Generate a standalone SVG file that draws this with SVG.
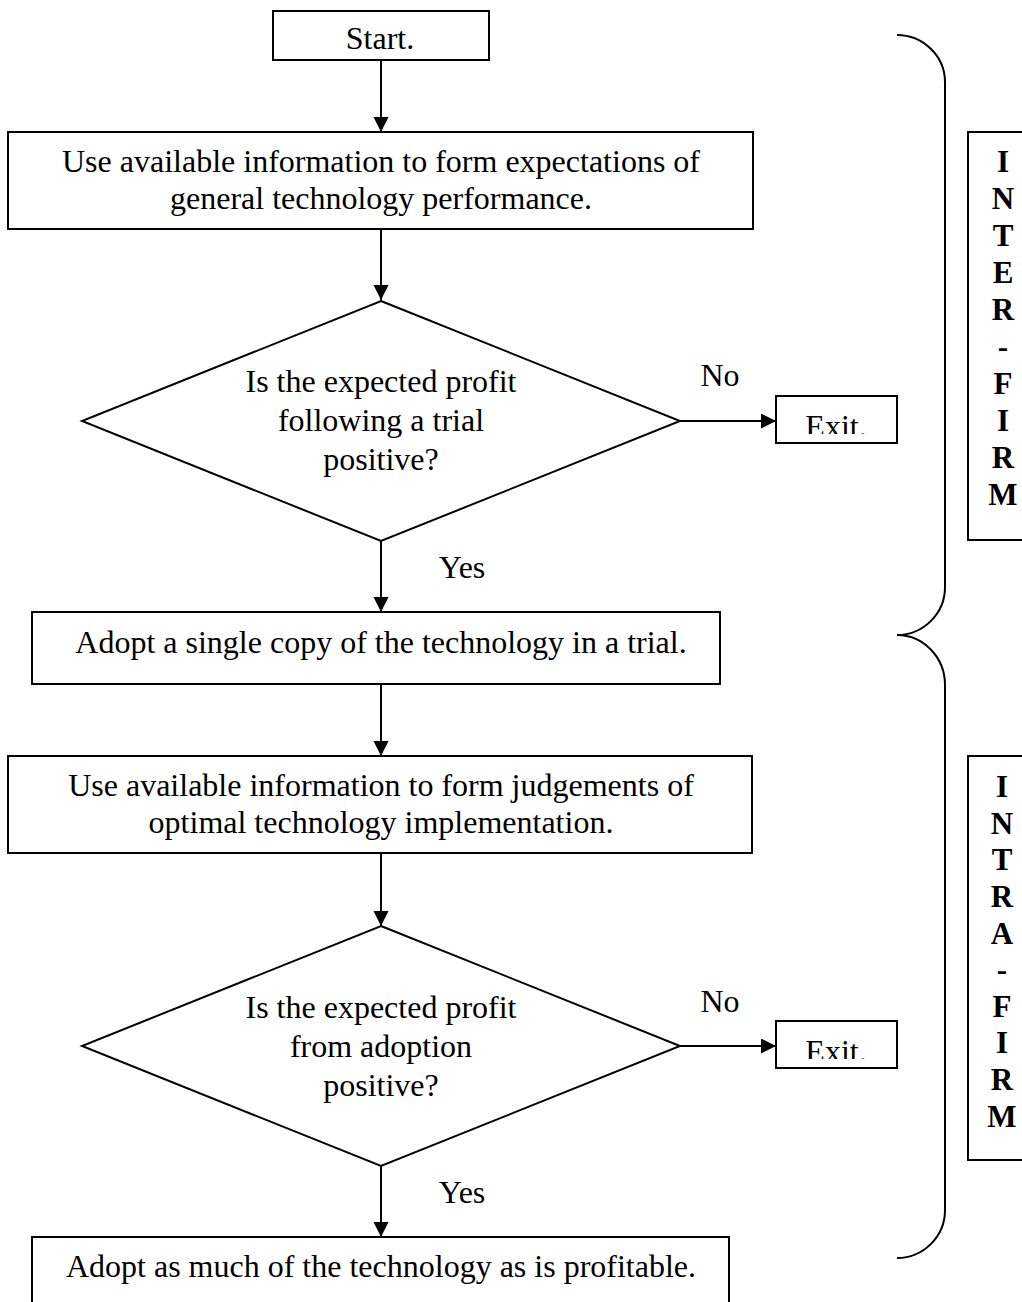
<svg xmlns="http://www.w3.org/2000/svg" width="1022" height="1302" viewBox="0 0 1022 1302">
<style>
.box{fill:#fff;stroke:#000;stroke-width:2}
.t{font-family:"Liberation Serif","Times New Roman",serif;font-size:32px;fill:#000;text-anchor:middle}
.b{font-family:"Liberation Serif","Times New Roman",serif;font-size:31px;font-weight:bold;fill:#000;text-anchor:middle}
.c{fill:none;stroke:#000;stroke-width:2}
</style>
<defs>
<marker id="ah" markerWidth="16" markerHeight="16" refX="15" refY="7.5" orient="auto" markerUnits="userSpaceOnUse"><path d="M0,0 L15,7.5 L0,15 z" fill="#000"/></marker>
<clipPath id="cx1"><rect x="776" y="396" width="121" height="38"/></clipPath>
<clipPath id="cx2"><rect x="776" y="1021" width="121" height="38"/></clipPath>
</defs>
<g id="connectors">
<line class="c" x1="381" y1="60" x2="381" y2="132" marker-end="url(#ah)"/>
<line class="c" x1="381" y1="229" x2="381" y2="300" marker-end="url(#ah)"/>
<line class="c" x1="680" y1="421" x2="776" y2="421" marker-end="url(#ah)"/>
<line class="c" x1="381" y1="541" x2="381" y2="612" marker-end="url(#ah)"/>
<line class="c" x1="381" y1="684" x2="381" y2="756" marker-end="url(#ah)"/>
<line class="c" x1="381" y1="853" x2="381" y2="926" marker-end="url(#ah)"/>
<line class="c" x1="680" y1="1046" x2="776" y2="1046" marker-end="url(#ah)"/>
<line class="c" x1="381" y1="1166" x2="381" y2="1237" marker-end="url(#ah)"/>
<text class="t" x="720" y="386">No</text>
<text class="t" x="462" y="578">Yes</text>
<text class="t" x="720" y="1012">No</text>
<text class="t" x="462" y="1203">Yes</text>
</g>
<g id="start">
<rect class="box" x="273" y="11" width="216" height="49"/>
<text class="t" x="380" y="49">Start.</text>
</g>
<g id="expectations">
<rect class="box" x="8" y="132" width="745" height="97"/>
<text class="t" x="381" y="172">Use available information to form expectations of</text>
<text class="t" x="381" y="209">general technology performance.</text>
</g>
<g id="decision1">
<polygon class="box" points="381,301 680,421 381,541 82,421"/>
<text class="t" x="381" y="392">Is the expected profit</text>
<text class="t" x="381" y="431">following a trial</text>
<text class="t" x="381" y="470">positive?</text>
</g>
<g id="exit1">
<rect class="box" x="776" y="396" width="121" height="47"/>
<text class="t" x="836" y="437" clip-path="url(#cx1)">Exit.</text>
</g>
<g id="trial">
<rect class="box" x="32" y="612" width="688" height="72"/>
<text class="t" x="381" y="653">Adopt a single copy of the technology in a trial.</text>
</g>
<g id="judgements">
<rect class="box" x="8" y="756" width="744" height="97"/>
<text class="t" x="381" y="796">Use available information to form judgements of</text>
<text class="t" x="381" y="833">optimal technology implementation.</text>
</g>
<g id="decision2">
<polygon class="box" points="381,926 680,1046 381,1166 82,1046"/>
<text class="t" x="381" y="1018">Is the expected profit</text>
<text class="t" x="381" y="1057">from adoption</text>
<text class="t" x="381" y="1096">positive?</text>
</g>
<g id="exit2">
<rect class="box" x="776" y="1021" width="121" height="47"/>
<text class="t" x="836" y="1062" clip-path="url(#cx2)">Exit.</text>
</g>
<g id="adopt">
<rect class="box" x="32" y="1237" width="697" height="80"/>
<text class="t" x="381" y="1277">Adopt as much of the technology as is profitable.</text>
</g>
<g id="inter-brace">
<path class="c" d="M897,35 C923,35 945,56 945,82 L945,587 C945,614 923,635 897,635"/>
</g>
<g id="intra-brace">
<path class="c" d="M897,635 C923,635 945,657 945,685 L945,1210 C945,1237 923,1258 897,1258"/>
</g>
<g id="inter-label">
<rect class="box" x="968" y="132" width="80" height="408"/>
<text class="b" x="1003" y="172">I</text>
<text class="b" x="1003" y="209">N</text>
<text class="b" x="1003" y="246">T</text>
<text class="b" x="1003" y="283">E</text>
<text class="b" x="1003" y="320">R</text>
<text class="b" x="1003" y="357">-</text>
<text class="b" x="1003" y="394">F</text>
<text class="b" x="1003" y="431">I</text>
<text class="b" x="1003" y="468">R</text>
<text class="b" x="1003" y="505">M</text>
</g>
<g id="intra-label">
<rect class="box" x="968" y="756" width="80" height="404"/>
<text class="b" x="1002" y="797">I</text>
<text class="b" x="1002" y="834">N</text>
<text class="b" x="1002" y="870">T</text>
<text class="b" x="1002" y="907">R</text>
<text class="b" x="1002" y="944">A</text>
<text class="b" x="1002" y="980">-</text>
<text class="b" x="1002" y="1017">F</text>
<text class="b" x="1002" y="1053">I</text>
<text class="b" x="1002" y="1090">R</text>
<text class="b" x="1002" y="1127">M</text>
</g>
</svg>
